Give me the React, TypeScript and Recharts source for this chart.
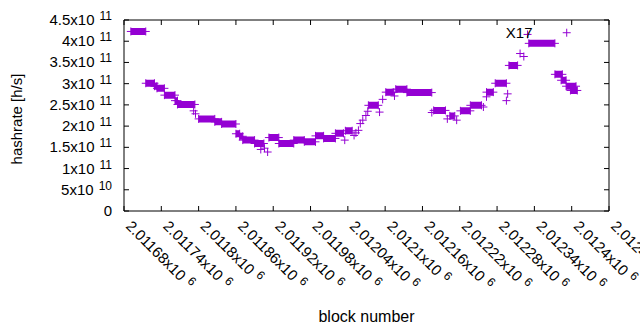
import { ComposedChart, Line, XAxis, YAxis, ReferenceArea, ReferenceDot, Label } from "recharts";

// stretches of constant hashrate: first block, last block, h/s
// (single points have start == end)
const segStart = [
  2011691, 2011715, 2011729, 2011733, 2011745, 2011762, 2011766, 2011792, 2011795, 2011800,
  2011826, 2011837, 2011860, 2011866, 2011871, 2011890, 2011900, 2011906, 2011911, 2011913,
  2011929, 2011953, 2011970, 2011988, 2012001, 2012035, 2012020, 2012036, 2012050, 2012053,
  2012057, 2012060, 2012064, 2012069, 2012072, 2012073, 2012091, 2012096, 2012101, 2012115,
  2012117, 2012135, 2012175, 2012178, 2012200, 2012204, 2012215, 2012221, 2012237, 2012258,
  2012263, 2012263, 2012277, 2012297, 2012295, 2012299, 2012317, 2012323, 2012329, 2012331,
  2012392, 2012373, 2012383, 2012391, 2012398,
];
const segEnd = [
  2011715, 2011729, 2011733, 2011745, 2011762, 2011766, 2011794, 2011792, 2011795, 2011826,
  2011837, 2011860, 2011866, 2011871, 2011890, 2011905, 2011900, 2011906, 2011911, 2011929,
  2011953, 2011970, 2011988, 2012001, 2012020, 2012035, 2012033, 2012047, 2012050, 2012053,
  2012057, 2012060, 2012064, 2012069, 2012072, 2012089, 2012091, 2012096, 2012114, 2012115,
  2012135, 2012175, 2012175, 2012197, 2012200, 2012212, 2012215, 2012237, 2012255, 2012258,
  2012263, 2012274, 2012295, 2012297, 2012295, 2012313, 2012317, 2012323, 2012329, 2012373,
  2012392, 2012385, 2012391, 2012407, 2012409,
];
const segRate = [
  423e9, 301e9, 294e9, 289e9, 273e9, 260e9, 251e9, 236e9, 229e9, 217e9,
  210e9, 205e9, 182e9, 176e9, 167e9, 159e9, 145e9, 148e9, 139e9, 173e9,
  159e9, 167e9, 163e9, 177e9, 171e9, 167e9, 183e9, 189e9, 178e9, 184e9,
  190e9, 206e9, 214e9, 225e9, 235e9, 249e9, 233e9, 263e9, 280e9, 271e9,
  287e9, 279e9, 232e9, 237e9, 217e9, 224e9, 214e9, 236e9, 249e9, 245e9,
  269e9, 280e9, 301e9, 276e9, 260e9, 343e9, 371e9, 364e9, 416e9, 395e9,
  420e9, 322e9, 308e9, 294e9, 284e9,
];

const xTicks = [
  2011680, 2011740, 2011800, 2011860, 2011920, 2011980, 2012040,
  2012100, 2012160, 2012220, 2012280, 2012340, 2012400, 2012460,
];
const yTicks = [0, 5e10, 1e11, 1.5e11, 2e11, 2.5e11, 3e11, 3.5e11, 4e11, 4.5e11];

const noteText = "X17";
const noteBlock = 2012294;
const noteRate = 4.22e11;

const PURPLE = "#9400d3";
const FONT = "'Liberation Sans', Arial, sans-serif";
const PLOT_W = 485;
const PLOT_H = 191;

// one run of + markers per stretch, broken by a null between stretches
const data: { block: number; rate: number | null }[] = [];
segStart.forEach((s, i) => {
  data.push({ block: s, rate: segRate[i] });
  if (segEnd[i] !== s) data.push({ block: segEnd[i], rate: segRate[i] });
  data.push({ block: segEnd[i], rate: null });
});

const sci = (v: number) => {
  const e = Math.floor(Math.log10(v) + 1e-9);
  const m = parseFloat((v / Math.pow(10, e)).toFixed(5)).toString();
  return [m, String(e)];
};

const PlusDot = (props: any) => {
  const { cx, cy, index } = props;
  if (cy == null || isNaN(cy)) return <g key={`d${index}`} />;
  return (
    <path
      key={`d${index}`}
      d={`M${cx - 4},${cy}h8M${cx},${cy - 4}v8`}
      stroke={PURPLE}
      strokeWidth={1}
      fill="none"
    />
  );
};

const XTick = ({ x, y, payload }: any) => {
  const m = parseFloat((payload.value / 1e6).toFixed(5)).toString();
  return (
    <g>
      <line x1={x} y1={y} x2={x} y2={y - 5} stroke="#000" />
      <line x1={x} y1={y - PLOT_H} x2={x} y2={y - PLOT_H + 5} stroke="#000" />
      <g transform={`translate(${x + 1},${y + 16}) rotate(45)`}>
        <text x={0} y={0} fontSize={15} fill="#000" fontFamily={FONT}>
          {m}x10
          <tspan dx={5} dy={-5} fontSize={12}>6</tspan>
        </text>
      </g>
    </g>
  );
};

const YTick = ({ x, y, payload }: any) => {
  const v = payload.value;
  const [m, e] = v === 0 ? ["0", ""] : sci(v);
  return (
    <g>
      <line x1={x} y1={y} x2={x + 5} y2={y} stroke="#000" />
      <line x1={x + PLOT_W} y1={y} x2={x + PLOT_W - 5} y2={y} stroke="#000" />
      <text x={x - 12} y={y + 5} textAnchor="end" fontSize={15} fill="#000" fontFamily={FONT}>
        {v === 0 ? m : `${m}x10`}
        {v !== 0 && (
          <tspan dx={5} dy={-5} fontSize={12}>{e}</tspan>
        )}
      </text>
    </g>
  );
};

const App = () => {
  return (
    <div style={{ position: "absolute", left: 0, top: 0, background: "#fff" }}>
      <ComposedChart
        width={640}
        height={330}
        data={data}
        margin={{ top: 20, right: 31, bottom: 0, left: 0 }}
      >
        <XAxis
          dataKey="block"
          type="number"
          domain={[xTicks[0], xTicks[xTicks.length - 1]]}
          ticks={xTicks}
          interval={0}
          allowDataOverflow
          height={119}
          tickSize={0}
          tickMargin={0}
          tickLine={false}
          axisLine={false}
          tick={<XTick />}
        >
          <Label
            content={({ viewBox }: any) => (
              <text
                x={viewBox.x + viewBox.width / 2}
                y={322}
                textAnchor="middle"
                fontSize={16}
                fill="#000"
                fontFamily={FONT}
              >
                block number
              </text>
            )}
          />
        </XAxis>
        <YAxis
          type="number"
          domain={[0, yTicks[yTicks.length - 1]]}
          ticks={yTicks}
          interval={0}
          allowDataOverflow
          width={124}
          tickSize={0}
          tickMargin={0}
          tickLine={false}
          axisLine={false}
          tick={<YTick />}
        >
          <Label
            content={() => (
              <text
                x={0}
                y={0}
                transform="translate(22,119) rotate(-90)"
                textAnchor="middle"
                fontSize={15}
                fill="#000"
                fontFamily={FONT}
              >
                hashrate [h/s]
              </text>
            )}
          />
        </YAxis>
        <ReferenceArea
          x1={xTicks[0]}
          x2={xTicks[xTicks.length - 1]}
          y1={0}
          y2={yTicks[yTicks.length - 1]}
          fill="none"
          stroke="#000"
          strokeWidth={1}
          ifOverflow="visible"
        />
        <Line
          dataKey="rate"
          type="linear"
          stroke={PURPLE}
          strokeWidth={7}
          strokeLinecap="butt"
          dot={(p: any) => <PlusDot key={`d${p.index}`} {...p} />}
          activeDot={false}
          isAnimationActive={false}
        />
        <ReferenceDot
          x={noteBlock}
          y={noteRate}
          r={0}
          fill="none"
          stroke="none"
          label={({ viewBox }: any) => (
            <text
              x={viewBox.x}
              y={viewBox.y + 6}
              fontSize={15}
              fill="#000"
              fontFamily={FONT}
            >
              {noteText}
            </text>
          )}
        />
      </ComposedChart>
    </div>
  );
};

export default App;
